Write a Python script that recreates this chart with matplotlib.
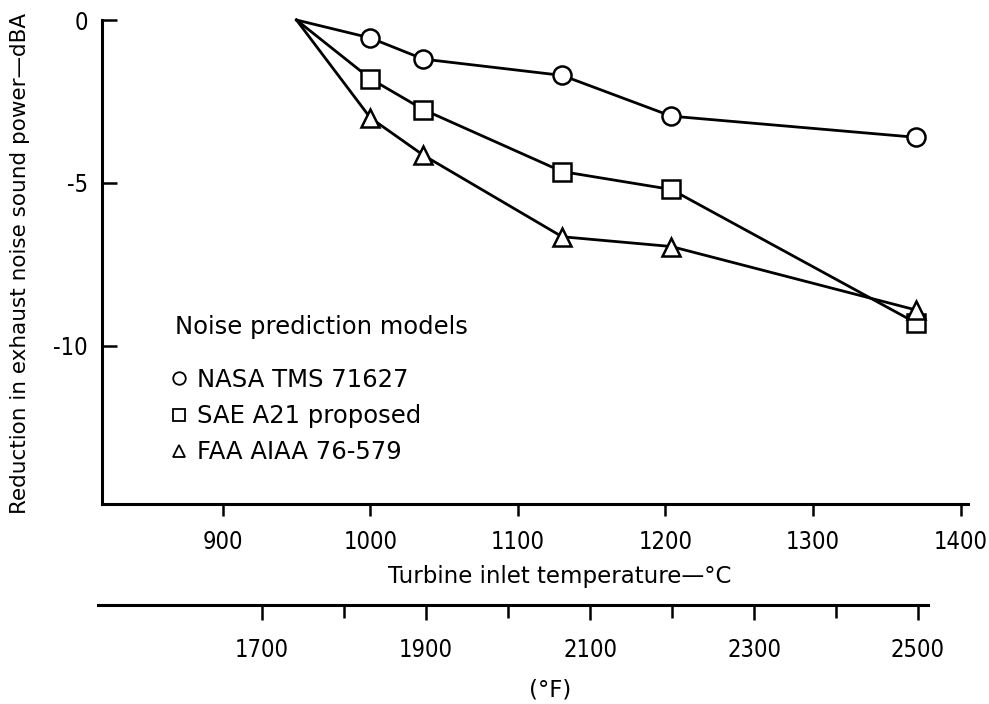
import matplotlib
matplotlib.use("Agg")
import matplotlib.pyplot as plt
from matplotlib.lines import Line2D

plt.rcParams['axes.unicode_minus'] = False
plt.rcParams['font.family'] = ['DejaVu Sans']

# turbine inlet temperature (deg C) and reduction in exhaust noise (dBA)
temp_c = [950, 1000, 1036, 1130, 1204, 1370]
nasa_tms = [0, -0.55, -1.2, -1.7, -2.95, -3.6]
sae_a21 = [0, -1.8, -2.75, -4.65, -5.2, -9.3]
faa_aiaa = [0, -3.0, -4.15, -6.65, -6.95, -8.9]

series_labels = ['NASA TMS 71627', 'SAE A21 proposed', 'FAA AIAA 76-579']
series_markers = ['o', 's', '^']

c_ticks = [900, 1000, 1100, 1200, 1300, 1400]
f_major = [1700, 1900, 2100, 2300, 2500]
f_minor = [1800, 2000, 2200, 2400]
y_ticks = [0, -5, -10]


def c_to_f(c):
    return c * 9.0 / 5.0 + 32.0


def style_ticklabels(labels):
    for lab in labels:
        lab.set_fontstretch('condensed')
        lab.set_fontsize(17)


fig = plt.figure(figsize=(9.89, 7.04), dpi=100)
W, H = 989.0, 704.0

ax_left, ax_bottom = 101.7 / W, 1 - 504 / H
ax_w, ax_h = (968 - 101.7) / W, (504 - 20) / H
ax = fig.add_axes([ax_left, ax_bottom, ax_w, ax_h])
xlim = (818, 1405)
ax.set_xlim(*xlim)
ax.set_ylim(-14.85, 0)

for vals, mk in zip([nasa_tms, sae_a21, faa_aiaa], series_markers):
    ax.plot(temp_c, vals, color='black', lw=2, marker=mk, markersize=13,
            markerfacecolor='white', markeredgecolor='black', markeredgewidth=1.8,
            markevery=list(range(1, len(temp_c))), clip_on=False, zorder=3)

for side in ['top', 'right']:
    ax.spines[side].set_visible(False)
for side in ['left', 'bottom']:
    ax.spines[side].set_linewidth(2.2)

ax.set_xticks(c_ticks)
ax.set_yticks(y_ticks)
ax.set_yticklabels([str(v) for v in y_ticks])
ax.tick_params(axis='x', direction='out', length=8.5, width=1.8, pad=10)
ax.tick_params(axis='y', direction='in', length=11, width=1.8, pad=10)
style_ticklabels(ax.get_xticklabels() + ax.get_yticklabels())

# Fahrenheit scale below the Celsius axis
f_lo, f_hi = c_to_f(xlim[0]), c_to_f(xlim[1])
px_per_f = (968 - 101.7) / (f_hi - f_lo)
f_start = 1500
ax2_left = 101.7 - (f_lo - f_start) * px_per_f
ax2 = fig.add_axes([ax2_left / W, 1 - 605 / H, (968 - ax2_left) / W, 0.0001])
ax2.set_xlim(f_start, f_hi)
ax2.set_ylim(0, 1)
ax2.patch.set_visible(False)
for side in ['top', 'right', 'left']:
    ax2.spines[side].set_visible(False)
ax2.spines['bottom'].set_linewidth(2.2)
ax2.spines['bottom'].set_bounds(f_start, 2512)
ax2.set_yticks([])
ax2.set_xticks(f_major)
ax2.set_xticks(f_minor, minor=True)
ax2.tick_params(axis='x', which='major', direction='out', length=11, width=1.8, pad=13)
ax2.tick_params(axis='x', which='minor', direction='out', length=9, width=1.8)
style_ticklabels(ax2.get_xticklabels())

fig.text(560 / W, 1 - 576 / H, 'Turbine inlet temperature\u2014\u00b0C',
         ha='center', va='center', fontsize=16.5)
fig.text(550 / W, 1 - 690 / H, '(\u00b0F)', ha='center', va='center', fontsize=16.5)
fig.text(20 / W, 1 - 263 / H, 'Reduction in exhaust noise sound power\u2014dBA',
         rotation=90, ha='center', va='center', fontsize=15.5)

# legend heading and entries
fig.text(175 / W, 1 - 327 / H, 'Noise prediction models', ha='left', va='center',
         fontsize=17.5)
handles = [Line2D([], [], ls='none', marker=mk, markersize=9, markerfacecolor='white',
                  markeredgecolor='black', markeredgewidth=1.3)
           for mk in series_markers]
ax.legend(handles, series_labels, loc='upper left', frameon=False,
          bbox_to_anchor=(169 / W, 1 - 368 / H), bbox_transform=fig.transFigure,
          fontsize=17.5, handlelength=0.8, handletextpad=0.35, labelspacing=0.5,
          borderpad=0, borderaxespad=0)

fig.savefig('out.png', dpi=100)
